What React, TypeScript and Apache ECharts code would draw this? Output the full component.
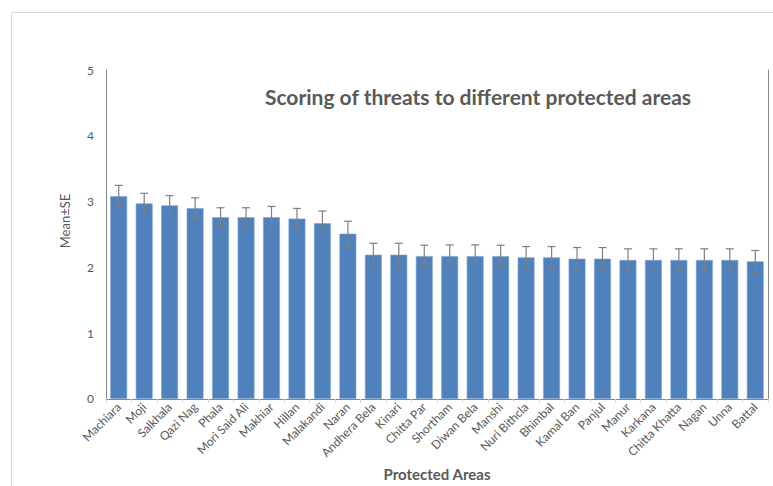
import React, { useEffect, useRef } from "react";
import * as echarts from "echarts";

const categories = [
  "Machiara", "Moji", "Salkhala", "Qazi Nag", "Phala", "Mori Said Ali", "Makhiar",
  "Hillan", "Malakandi", "Naran", "Andhera Bela", "Kinari", "Chitta Par", "Shortham",
  "Diwan Bela", "Manshi", "Nuri Bithcla", "Bhimbal", "Kamal Ban", "Panjul", "Manur",
  "Karkana", "Chitta Khatta", "Nagan", "Unna", "Battal",
];
const means = [
  3.08, 2.97, 2.94, 2.9, 2.76, 2.76, 2.76, 2.74, 2.67, 2.51, 2.19, 2.19, 2.17, 2.17,
  2.17, 2.17, 2.15, 2.15, 2.13, 2.13, 2.11, 2.11, 2.11, 2.11, 2.11, 2.09,
];
const se = [
  0.165, 0.155, 0.15, 0.155, 0.145, 0.145, 0.165, 0.155, 0.185, 0.19, 0.175, 0.175, 0.165, 0.17,
  0.17, 0.165, 0.165, 0.165, 0.17, 0.17, 0.17, 0.17, 0.17, 0.17, 0.17, 0.165,
];
const yTicks = [0, 1, 2, 3, 4, 5];

const FONT = "Lato, 'Open Sans', sans-serif";
const TEXT = "#595959";

export default function App() {
  const ref = useRef<HTMLDivElement>(null);
  useEffect(() => {
    if (!ref.current) return;
    const chart = echarts.init(ref.current, undefined, { renderer: "svg" });
    const errData = categories.map((c, i) => [i, means[i] - se[i], means[i] + se[i]]);
    chart.setOption({
      animation: false,
      textStyle: { fontFamily: FONT },
      grid: { left: 106, top: 70, right: 5, bottom: 76 },
      graphic: [
        {
          type: "rect",
          shape: { x: 11.5, y: 12.5, width: 800, height: 500 },
          style: { fill: "none", stroke: "#d9d9d9", lineWidth: 1 },
          z: -10,
        },
        {
          type: "text",
          x: 478,
          y: 96,
          style: {
            text: "Scoring of threats to different protected areas",
            fill: TEXT,
            font: `bold 21px ${FONT}`,
            textAlign: "center",
            textVerticalAlign: "middle",
          },
        },
        {
          type: "text",
          x: 65,
          y: 221,
          rotation: Math.PI / 2,
          style: {
            text: "Mean±SE",
            fill: TEXT,
            font: `13px ${FONT}`,
            textAlign: "center",
            textVerticalAlign: "middle",
          },
        },
      ],
      xAxis: [
        {
          type: "category",
          data: categories,
          name: "Protected Areas",
          nameLocation: "middle",
          nameGap: 67,
          nameTextStyle: { color: TEXT, fontWeight: "bold", fontSize: 15, fontFamily: FONT },
          axisLine: { lineStyle: { color: "#d9d9d9" } },
          axisTick: { show: true, length: 4, lineStyle: { color: "#d9d9d9" } },
          axisLabel: { rotate: 45, color: TEXT, fontSize: 12, margin: 6, interval: 0, fontFamily: FONT },
        },
        {
          type: "category",
          data: categories,
          position: "top",
          axisLine: { lineStyle: { color: "#868686" } },
          axisTick: { show: false },
          axisLabel: { show: false },
        },
      ],
      yAxis: [
        {
          type: "value",
          min: yTicks[0],
          max: yTicks[yTicks.length - 1],
          interval: 1,
          axisLine: { show: true, lineStyle: { color: "#868686" } },
          axisTick: { show: false },
          splitLine: { show: false },
          axisLabel: { color: TEXT, fontSize: 12, margin: 12, fontFamily: FONT },
        },
        {
          type: "value",
          min: yTicks[0],
          max: yTicks[yTicks.length - 1],
          interval: 1,
          position: "right",
          axisLine: { show: true, lineStyle: { color: "#868686" } },
          axisTick: { show: false },
          splitLine: { show: false },
          axisLabel: { show: false },
        },
      ],
      series: [
        {
          type: "bar",
          data: means,
          barCategoryGap: "34%",
          itemStyle: { color: "#4f81bd", borderColor: "#7aa0d2", borderWidth: 0.6 },
        },
        {
          type: "custom",
          data: errData,
          z: 10,
          renderItem: (params: any, api: any) => {
            const x = api.value(0);
            const lo = api.coord([x, api.value(1)]);
            const hi = api.coord([x, api.value(2)]);
            const hw = 4;
            const style = { stroke: "#7f7f7f", lineWidth: 1.2 };
            return {
              type: "group",
              children: [
                { type: "line", shape: { x1: hi[0], y1: hi[1], x2: lo[0], y2: lo[1] }, style },
                { type: "line", shape: { x1: hi[0] - hw, y1: hi[1], x2: hi[0] + hw, y2: hi[1] }, style },
                { type: "line", shape: { x1: lo[0] - hw, y1: lo[1], x2: lo[0] + hw, y2: lo[1] }, style },
              ],
            };
          },
        },
      ],
    });
    return () => chart.dispose();
  }, []);
  return (
    <div
      ref={ref}
      style={{ position: "fixed", left: 0, top: 0, width: 773, height: 486, background: "#fff" }}
    />
  );
}
